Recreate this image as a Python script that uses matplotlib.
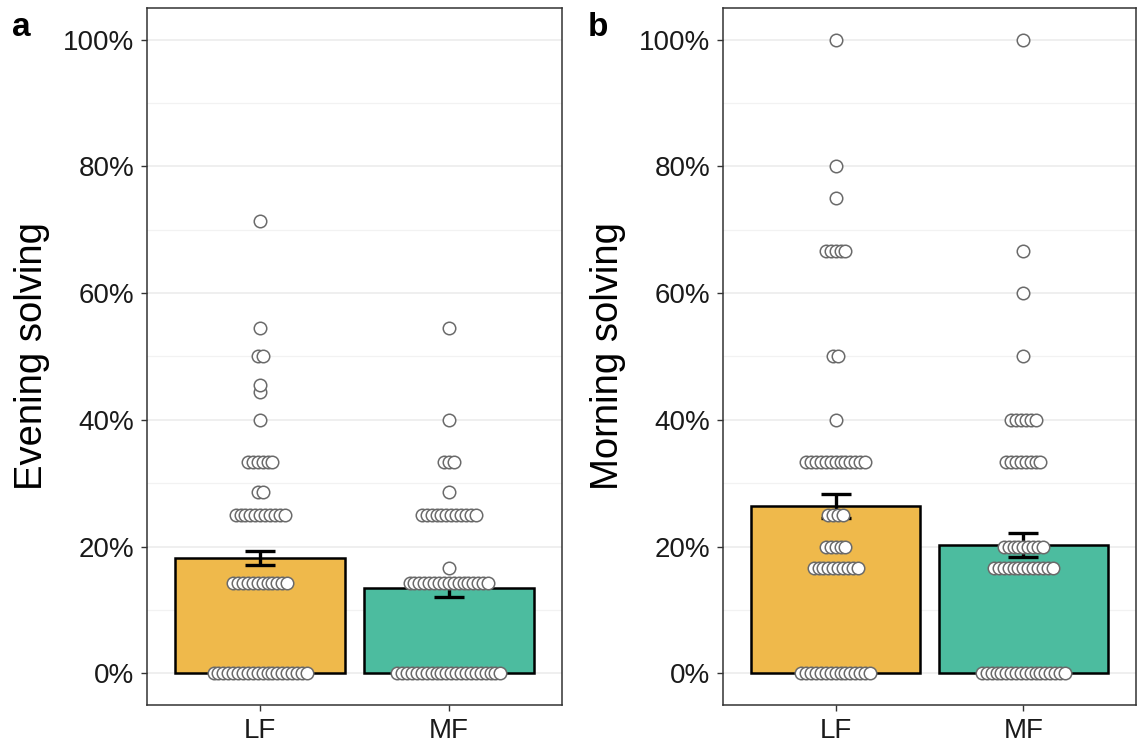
import matplotlib
matplotlib.use("Agg")
import matplotlib.pyplot as plt
import numpy as np
from matplotlib.ticker import FuncFormatter, MultipleLocator

plt.rcParams['font.family'] = ['Liberation Sans', 'DejaVu Sans']

# ---------------- data (percent) ----------------
groups = ["LF", "MF"]
bar_colors = ["#EFB94B", "#4CBC9F"]

# Panel a: Evening solving
eve_lf_levels = [0, 14.29, 25, 28.57, 33.33, 40, 44.44, 45.45, 50, 54.55, 71.43]
eve_lf_counts = [20, 12, 11, 2, 6, 1, 1, 1, 2, 1, 1]
eve_mf_levels = [0, 14.29, 16.67, 25, 28.57, 33.33, 40, 54.55]
eve_mf_counts = [22, 17, 1, 12, 1, 3, 1, 1]
eve_means = [18.2, 13.4]
eve_se = [1.1, 1.3]

# Panel b: Morning solving
mor_lf_levels = [0, 16.67, 20, 25, 33.33, 40, 50, 66.67, 75, 80, 100]
mor_lf_counts = [15, 10, 5, 4, 13, 1, 2, 5, 1, 1, 1]
mor_mf_levels = [0, 16.67, 20, 33.33, 40, 50, 60, 66.67, 100]
mor_mf_counts = [18, 13, 9, 8, 6, 1, 1, 1, 1]
mor_means = [26.4, 20.3]
mor_se = [1.85, 1.9]

yticks = [0, 20, 40, 60, 80, 100]
panel_letters = ["a", "b"]
ylabels = ["Evening solving", "Morning solving"]

# ---------------- figure ----------------
W, H = 1139, 752
fig = plt.figure(figsize=(W / 100, H / 100), dpi=100)

def px_axes(x0, x1, y0, y1):
    return fig.add_axes([x0 / W, 1 - y1 / H, (x1 - x0) / W, (y1 - y0) / H])

axes = [px_axes(147, 562, 8, 705), px_axes(723, 1136, 8, 705)]

panels = [
    (eve_means, eve_se, [(eve_lf_levels, eve_lf_counts), (eve_mf_levels, eve_mf_counts)]),
    (mor_means, mor_se, [(mor_lf_levels, mor_lf_counts), (mor_mf_levels, mor_mf_counts)]),
]

dot_step = 0.026  # horizontal spacing between dots in a row (x units)
xpos = np.arange(1, len(groups) + 1)

for k, (ax, (means, ses, dots)) in enumerate(zip(axes, panels)):
    ax.set_xlim(0.4, 2.6)
    ax.set_ylim(-5, 105)
    # grid
    ax.yaxis.set_major_locator(MultipleLocator(20))
    ax.yaxis.set_minor_locator(MultipleLocator(10))
    ax.grid(True, axis='y', which='major', color='#EBEBEB', linewidth=1.1, zorder=0)
    ax.grid(True, axis='y', which='minor', color='#F2F2F2', linewidth=0.9, zorder=0)
    ax.grid(False, axis='x')
    ax.set_axisbelow(True)

    ax.bar(xpos, means, width=0.9, color=bar_colors, edgecolor='black',
           linewidth=1.8, zorder=2)
    ax.errorbar(xpos, means, yerr=ses, fmt='none', ecolor='black',
                elinewidth=2.4, capsize=10.5, capthick=2.4, zorder=3)

    for gi, (levels, counts) in enumerate(dots):
        for lv, n in zip(levels, counts):
            offs = (np.arange(n) - (n - 1) / 2) * dot_step
            for o in offs:
                ax.plot(xpos[gi] + o, lv, 'o', ms=9.0, mfc='white', mec='#6a6a6a',
                        mew=1.1, zorder=4)

    ax.set_xticks(xpos)
    ax.set_xticklabels(groups)
    ax.set_yticks(yticks)
    ax.yaxis.set_major_formatter(FuncFormatter(lambda v, p: f"{int(round(v))}%"))
    ax.tick_params(axis='both', which='major', labelsize=20, length=4.3,
                   width=1.0, color='#333333', labelcolor='#1a1a1a')
    ax.tick_params(axis='y', which='major', pad=5)
    ax.tick_params(axis='x', which='major', pad=5)
    ax.tick_params(axis='y', which='minor', length=0)
    for sp in ax.spines.values():
        sp.set_color('#333333')
        sp.set_linewidth(1.1)
    ax.set_ylabel(ylabels[k], fontsize=27.5, color='black', labelpad=9)

fig.text(12 / W, 1 - 36 / H, panel_letters[0], fontsize=24, fontweight='bold',
         ha='left', va='baseline')
fig.text(588 / W, 1 - 36 / H, panel_letters[1], fontsize=24, fontweight='bold',
         ha='left', va='baseline')

fig.savefig("out.png", dpi=100)
